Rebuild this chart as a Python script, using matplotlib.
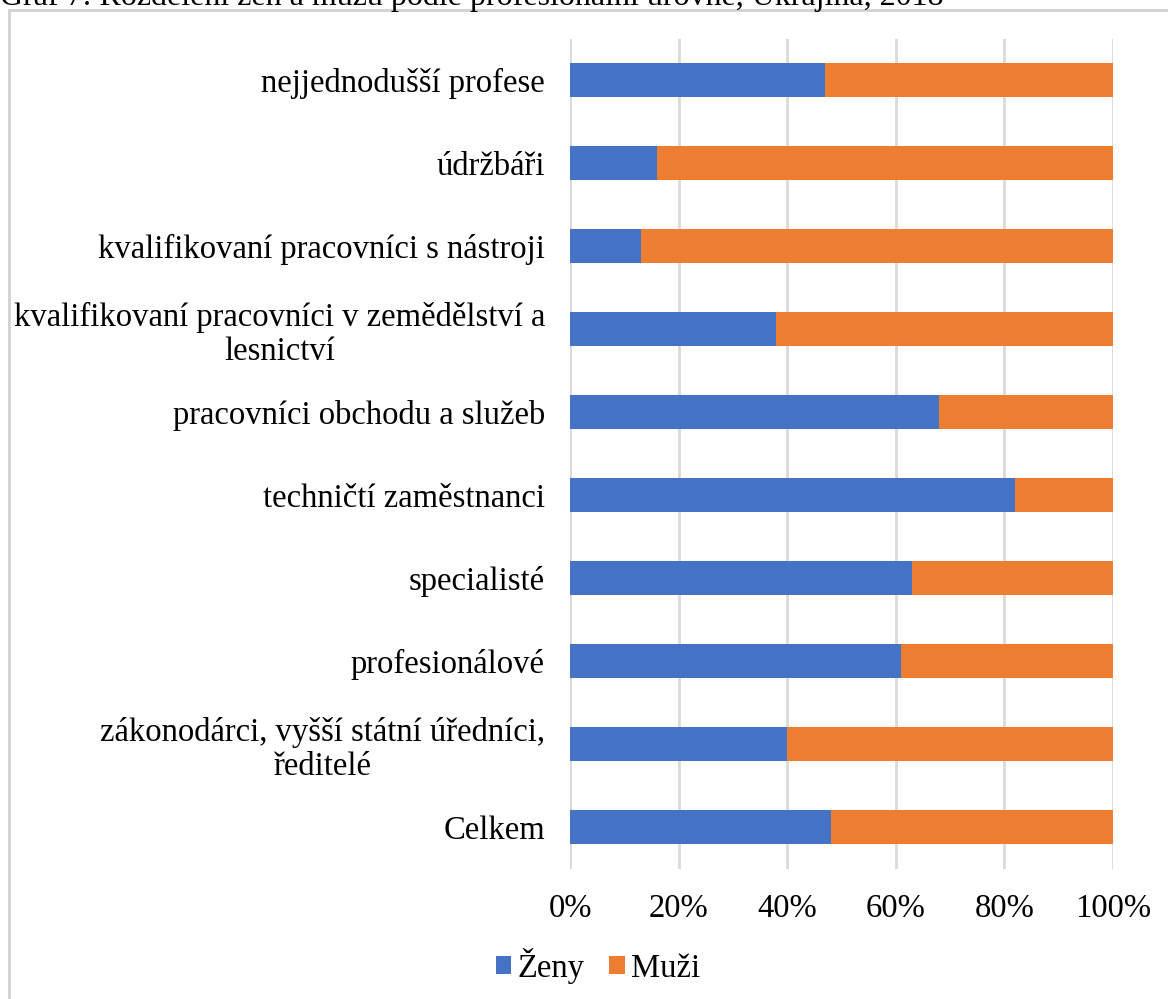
import matplotlib
matplotlib.use("Agg")
import matplotlib.pyplot as plt
from matplotlib.patches import Rectangle
import numpy as np

categories = [
    "Celkem",
    "zákonodárci, vyšší státní úředníci,\nředitelé",
    "profesionálové",
    "specialisté",
    "techničtí zaměstnanci",
    "pracovníci obchodu a služeb",
    "kvalifikovaní pracovníci v zemědělství a\nlesnictví",
    "kvalifikovaní pracovníci s nástroji",
    "údržbáři",
    "nejjednodušší profese",
]
zeny = [48, 40, 61, 63, 82, 68, 38, 13, 16, 47]
muzi = [100 - v for v in zeny]
xticks = [0, 20, 40, 60, 80, 100]
xticklabels = ["0%", "20%", "40%", "60%", "80%", "100%"]
title = "Graf 7: Rozdělení žen a mužů podle profesionální úrovně, Ukrajina, 2018"

plt.rcParams['font.family'] = ['Liberation Serif', 'DejaVu Serif']
FS = 23.5

W, H = 1168, 999
fig = plt.figure(figsize=(W / 100, H / 100), dpi=100)

# chart frame
frame = Rectangle((9 / W, -0.05), 1.2, 1 - 10 / H + 0.05,
                  transform=fig.transFigure, facecolor='white',
                  edgecolor='#d0d0d0', linewidth=2, zorder=-10)
fig.add_artist(frame)
fig.text(0.0, 1 - 5 / H, title, fontsize=23, ha='left', va='baseline',
         color='black', zorder=-5)

ax = fig.add_axes([570 / W, 1 - 868.5 / H, (1113 - 570) / W, (868.5 - 38.5) / H])
ax.set_zorder(1)
y = np.arange(len(categories))
ax.barh(y, zeny, height=0.4, color='#4472C4', label='Ženy', zorder=3)
ax.barh(y, muzi, left=zeny, height=0.4, color='#ED7D31', label='Muži', zorder=3)

ax.set_xlim(0, 100)
ax.set_ylim(-0.5, len(categories) - 0.5)
ax.set_xticks(xticks)
ax.set_xticklabels(xticklabels, fontsize=FS)
ax.set_yticks(y)
ax.set_yticklabels(categories, fontsize=FS, multialignment='center',
                   linespacing=1.15)
ax.tick_params(axis='both', length=0)
ax.tick_params(axis='y', pad=18)
ax.tick_params(axis='x', pad=18)
ax.grid(axis='x', color='#d9d9d9', linewidth=2, zorder=0)
ax.set_axisbelow(True)
for s in ax.spines.values():
    s.set_visible(False)
ax.set_facecolor('none')

handles, labels = ax.get_legend_handles_labels()
fig.legend(handles, labels, loc='center', bbox_to_anchor=(598 / W, 1 - 966 / H),
           ncol=2, frameon=False, fontsize=FS, handlelength=0.47, handleheight=0.47,
           handletextpad=0.2, columnspacing=0.75)

fig.savefig("out.png", dpi=100)
